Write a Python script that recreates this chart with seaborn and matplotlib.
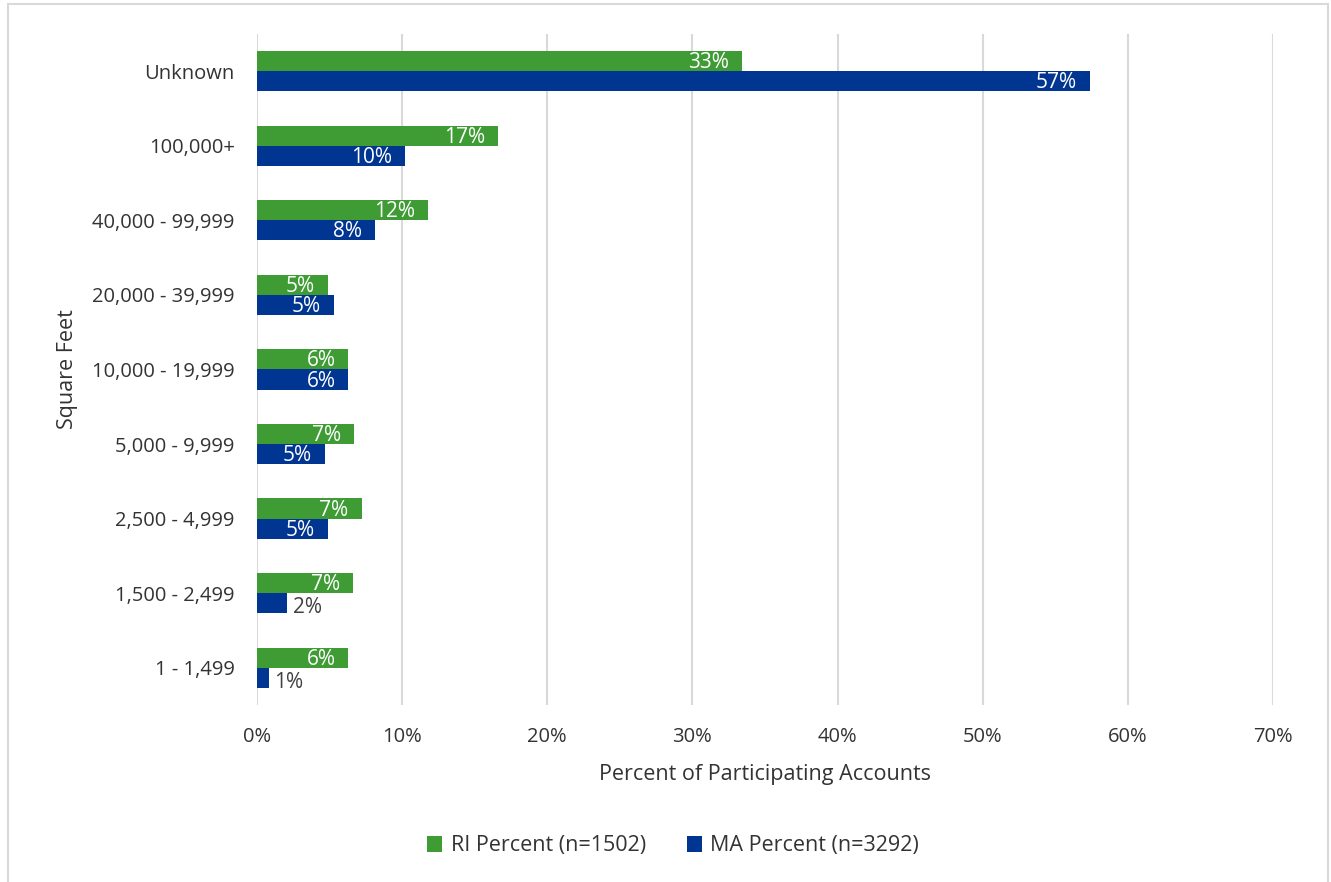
import matplotlib
matplotlib.use("Agg")
import matplotlib.pyplot as plt
from matplotlib.patches import Rectangle
import seaborn as sns
import pandas as pd

# Square-footage bins, top to bottom
categories = ["Unknown", "100,000+", "40,000 - 99,999", "20,000 - 39,999",
              "10,000 - 19,999", "5,000 - 9,999", "2,500 - 4,999",
              "1,500 - 2,499", "1 - 1,499"]
ri_percent = [33.4, 16.6, 11.8, 4.9, 6.3, 6.7, 7.2, 6.6, 6.3]
ma_percent = [57.4, 10.2, 8.1, 5.3, 6.3, 4.7, 4.9, 2.1, 0.8]
series_names = ["RI Percent (n=1502)", "MA Percent (n=3292)"]
x_ticks = [0, 10, 20, 30, 40, 50, 60, 70]

colors = {series_names[0]: "#3F9C35", series_names[1]: "#003591"}

df = pd.DataFrame({
    "Square Feet": categories * 2,
    "Percent": ri_percent + ma_percent,
    "Series": [series_names[0]] * len(categories) + [series_names[1]] * len(categories),
})

sns.set_style("white")
plt.rcParams["font.family"] = ["Open Sans", "DejaVu Sans"]

fig = plt.figure(figsize=(13.31, 8.82), dpi=100)
ax = fig.add_axes([0.1931, 0.2007, 0.7633, 0.7608])

sns.barplot(data=df, x="Percent", y="Square Feet", hue="Series", orient="h",
            palette=colors, saturation=1, width=0.54, linewidth=0,
            ax=ax, legend=True)

ax.set_xlim(0, 70)
ax.set_xticks(x_ticks)
ax.set_xticklabels([f"{t}%" for t in x_ticks])
ax.xaxis.grid(True, color="#D9D9D9", linewidth=1.5)
ax.set_axisbelow(True)
for s in ax.spines.values():
    s.set_visible(False)
ax.tick_params(axis="both", length=0, labelsize=14.5, colors="#333333")
ax.tick_params(axis="y", pad=16)
ax.tick_params(axis="x", pad=16)
ax.set_ylim(len(categories) - 0.5, -0.5)

ax.set_xlabel("Percent of Participating Accounts", fontsize=15.5, color="#333333", labelpad=12)
ax.set_ylabel("Square Feet", fontsize=15.5, color="#333333", labelpad=10)

# Value labels: inside the bar end in white, outside in gray for very short bars
for container, values in zip(ax.containers, [ri_percent, ma_percent]):
    for rect, v in zip(container, values):
        yc = rect.get_y() + rect.get_height() / 2
        label = f"{round(v):d}%"
        if v < 4:
            ax.text(v + 0.35, yc + 0.06, label, ha="left", va="center",
                    fontsize=15, color="#404040")
        else:
            ax.text(v - 0.9, yc + 0.02, label, ha="right", va="center",
                    fontsize=15, color="white")

leg = ax.legend(loc="center", bbox_to_anchor=(673 / 1331, 1 - 846 / 882),
                bbox_transform=fig.transFigure, ncol=2,
                frameon=False, fontsize=15.5, handlelength=0.7, handleheight=0.7,
                handletextpad=0.4, columnspacing=1.9, labelcolor="#333333")

# Light frame around the chart area
fig.patches.append(Rectangle((8 / 1331, -0.01), 1320 / 1331, 1 - 4 / 882 + 0.01,
                             transform=fig.transFigure, fill=False,
                             edgecolor="#D9D9D9", linewidth=1.5))

fig.savefig("out.png", dpi=100, facecolor="white")
